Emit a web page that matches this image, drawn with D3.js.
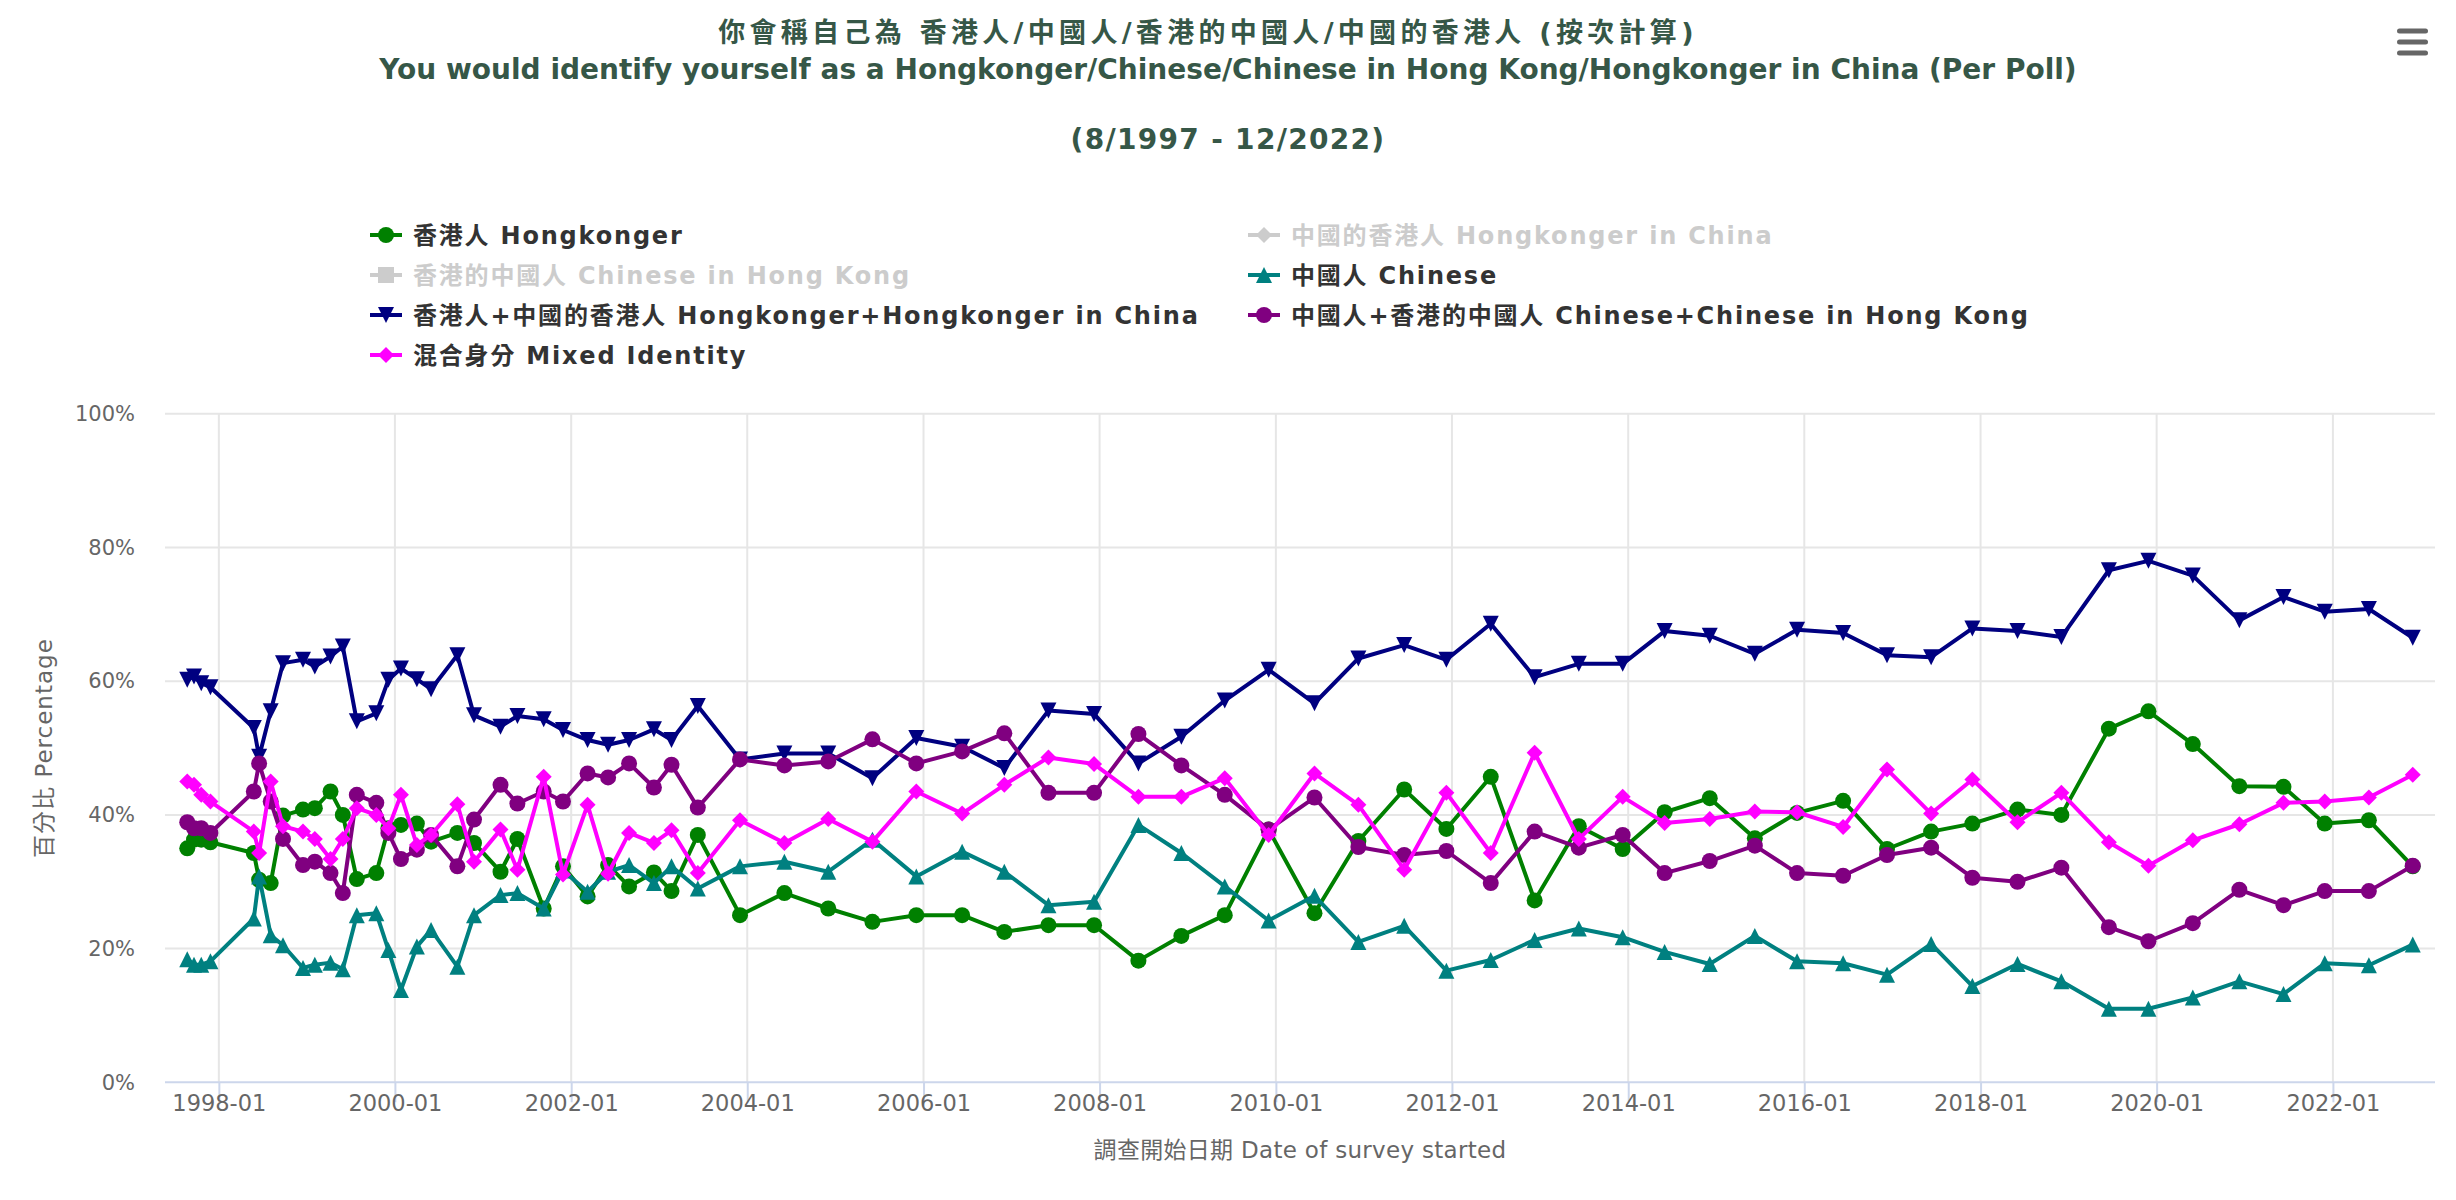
<!DOCTYPE html>
<html>
<head>
<meta charset="utf-8">
<script src="https://cdn.jsdelivr.net/npm/d3@7"></script>
<style>
  html, body { margin: 0; padding: 0; background: #fff; }
  svg { display: block; font-family: "DejaVu Sans", "Noto Sans CJK TC", sans-serif; }
</style>
</head>
<body>
<div id="chart"></div>
<script>
// survey start dates (one per poll)
var dates = [
  "1997-08-23","1997-09-20","1997-10-20","1997-11-27","1998-05-26","1998-06-17","1998-08-04","1998-09-24",
  "1998-12-16","1999-02-03","1999-04-09","1999-05-30","1999-07-27","1999-10-16","1999-12-05","2000-01-26",
  "2000-04-01","2000-05-30","2000-09-16","2000-11-24","2001-03-14","2001-05-23","2001-09-09","2001-11-28",
  "2002-03-10","2002-06-03","2002-08-29","2002-12-10","2003-02-21","2003-06-10","2003-12-02","2004-06-03",
  "2004-12-02","2005-06-03","2005-12-02","2006-06-10","2006-12-02","2007-06-03","2007-12-09","2008-06-10",
  "2008-12-05","2009-06-03","2009-12-02","2010-06-10","2010-12-09","2011-06-17","2011-12-09","2012-06-10",
  "2012-12-09","2013-06-10","2013-12-09","2014-06-01","2014-12-05","2015-06-10","2015-12-02","2016-06-10",
  "2016-12-09","2017-06-10","2017-11-28","2018-06-03","2018-12-02","2019-06-17","2019-11-28","2020-05-30",
  "2020-12-09","2021-06-10","2021-11-28","2022-05-30","2022-11-28"
];

var hongkonger = [
  35.0,36.3,36.3,35.9,34.3,30.3,29.8,39.9,40.8,41.0,43.5,40.0,30.4,31.3,38.0,38.5,
  38.7,36.0,37.3,35.8,31.5,36.4,26.0,32.3,27.8,32.5,29.3,31.4,28.6,37.0,25.0,28.3,
  26.0,24.0,25.0,25.0,22.5,23.5,23.5,18.2,21.9,25.0,37.8,25.3,36.1,43.8,37.9,45.7,
  27.2,38.3,34.9,40.4,42.5,36.5,40.3,42.1,34.9,37.5,38.7,40.8,40.0,52.9,55.5,50.6,
  44.3,44.2,38.7,39.2,32.3
];

var chinese = [
  18.4,17.6,17.6,18.1,24.5,30.8,22.0,20.5,17.1,17.6,17.9,16.9,25.0,25.3,19.8,13.8,
  20.3,22.8,17.3,25.0,28.0,28.3,26.0,31.7,28.5,31.5,32.5,29.8,32.3,29.0,32.3,33.0,
  31.5,36.3,30.8,34.5,31.5,26.5,27.0,38.5,34.3,29.3,24.2,27.9,21.0,23.4,16.7,18.3,
  21.3,23.0,21.7,19.5,17.7,21.9,18.1,17.8,16.1,20.7,14.4,17.7,15.1,11.0,11.0,12.7,
  15.1,13.2,17.8,17.5,20.6
];

var hkPlusHkInChina = [
  60.2,60.7,59.7,59.1,53.0,48.7,55.5,62.7,63.2,62.2,63.7,65.2,54.0,55.2,60.2,61.9,
  60.3,58.8,63.9,54.9,53.2,54.8,54.3,52.7,51.2,50.5,51.2,52.8,51.2,56.3,48.3,49.2,
  49.2,45.5,51.5,50.2,47.0,55.6,55.1,47.7,51.7,57.1,61.7,56.7,63.4,65.4,63.2,68.6,
  60.6,62.6,62.6,67.5,66.8,64.1,67.7,67.2,63.9,63.6,67.9,67.5,66.6,76.6,78.0,75.8,
  69.1,72.6,70.4,70.8,66.5
];

var cnPlusCnInHk = [
  38.9,38.0,38.0,37.3,43.5,47.7,42.0,36.4,32.5,33.0,31.3,28.3,43.0,41.8,37.3,33.4,
  34.8,37.0,32.3,39.3,44.5,41.7,43.5,42.0,46.2,45.6,47.7,44.1,47.5,41.1,48.3,47.4,
  48.0,51.3,47.7,49.5,52.2,43.3,43.3,52.1,47.4,43.0,37.8,42.6,35.2,34.0,34.6,29.8,
  37.5,35.1,37.0,31.3,33.1,35.4,31.3,30.9,34.0,35.1,30.6,30.0,32.1,23.2,21.1,23.8,
  28.8,26.5,28.6,28.6,32.4
];

var mixed = [
  45.0,44.5,43.0,42.0,37.5,34.3,45.0,38.3,37.5,36.4,33.4,36.4,41.0,40.0,38.0,43.0,
  35.5,37.0,41.6,33.0,37.8,31.8,45.7,31.1,41.5,31.2,37.3,35.8,37.7,31.3,39.2,35.8,
  39.4,36.0,43.5,40.2,44.5,48.6,47.6,42.7,42.7,45.5,37.0,46.2,41.5,31.8,43.3,34.3,
  49.3,36.4,42.7,38.8,39.4,40.5,40.4,38.2,46.8,40.2,45.3,38.9,43.3,35.9,32.4,36.2,
  38.6,41.8,42.0,42.6,46.0
];

var yTicks = [0, 20, 40, 60, 80, 100];

// legend / draw order as in the original chart; hidden series have no data drawn
var series = [
  {name: "香港人 Hongkonger", color: "#008000", symbol: "circle", values: hongkonger},
  {name: "中國的香港人 Hongkonger in China", color: "#cccccc", symbol: "diamond", values: null},
  {name: "香港的中國人 Chinese in Hong Kong", color: "#cccccc", symbol: "square", values: null},
  {name: "中國人 Chinese", color: "#008080", symbol: "triangle", values: chinese},
  {name: "香港人+中國的香港人 Hongkonger+Hongkonger in China", color: "#000080", symbol: "triangle-down", values: hkPlusHkInChina},
  {name: "中國人+香港的中國人 Chinese+Chinese in Hong Kong", color: "#800080", symbol: "circle", values: cnPlusCnInHk},
  {name: "混合身分 Mixed Identity", color: "#ff00ff", symbol: "diamond", values: mixed}
];

var width = 2456, height = 1200;
var plot = {left: 165, right: 2435, top: 413.8, bottom: 1082.3};

var svg = d3.select("#chart").append("svg")
    .attr("width", width)
    .attr("height", height);

var parse = d3.timeParse("%Y-%m-%d");
var times = dates.map(parse);

var t0 = d3.min(times), t1 = d3.max(times);
var pad = (t1 - t0) * 0.01;
var x = d3.scaleTime()
    .domain([new Date(+t0 - pad), new Date(+t1 + pad)])
    .range([plot.left, plot.right]);

var y = d3.scaleLinear()
    .domain([0, 100])
    .range([plot.bottom, plot.top]);

function markerPath(symbol, r) {
    if (symbol == "triangle") return "M0," + (-r) + "L" + r + "," + r + "L" + (-r) + "," + r + "Z";
    if (symbol == "triangle-down") return "M" + (-r) + "," + (-r) + "L" + r + "," + (-r) + "L0," + r + "Z";
    if (symbol == "diamond") return "M0," + (-r) + "L" + r + ",0L0," + r + "L" + (-r) + ",0Z";
    if (symbol == "square") return "M" + (-r) + "," + (-r) + "h" + (2 * r) + "v" + (2 * r) + "h" + (-2 * r) + "Z";
    return "M" + (-r) + ",0a" + r + "," + r + " 0 1,0 " + (2 * r) + ",0a" + r + "," + r + " 0 1,0 " + (-2 * r) + ",0Z";
}

// titles
var titleColor = "#365747";
svg.append("text")
    .attr("x", width / 2 - 20).attr("y", 33).attr("dy", "0.35em")
    .attr("text-anchor", "middle")
    .style("font-size", "27px").style("font-weight", "bold").style("fill", titleColor)
    .style("letter-spacing", "4.3px")
    .text("你會稱自己為 香港人/中國人/香港的中國人/中國的香港人 (按次計算)");
svg.append("text")
    .attr("x", width / 2).attr("y", 69).attr("dy", "0.35em")
    .attr("text-anchor", "middle")
    .style("font-size", "28px").style("font-weight", "bold").style("fill", titleColor)
    .text("You would identify yourself as a Hongkonger/Chinese/Chinese in Hong Kong/Hongkonger in China (Per Poll)");
svg.append("text")
    .attr("x", width / 2).attr("y", 139).attr("dy", "0.35em")
    .attr("text-anchor", "middle")
    .style("font-size", "28px").style("font-weight", "bold").style("fill", titleColor)
    .style("letter-spacing", "1.3px")
    .text("(8/1997 - 12/2022)");

// menu button
svg.append("g").selectAll("rect")
    .data([31, 42, 53])
    .enter().append("rect")
    .attr("x", 2397).attr("y", function(d) { return d - 2.5; })
    .attr("width", 31).attr("height", 5).attr("rx", 2.5)
    .attr("fill", "#666666");

// legend
var legend = svg.append("g");
var legendItem = legend.selectAll("g")
    .data(series)
    .enter().append("g")
    .attr("transform", function(d, i) {
        var col = i % 2, row = Math.floor(i / 2);
        return "translate(" + (col == 0 ? 386 : 1264) + "," + (235 + row * 40) + ")";
    });
legendItem.append("line")
    .attr("x1", -16).attr("x2", 16)
    .attr("stroke", function(d) { return d.color; })
    .attr("stroke-width", 4);
legendItem.append("path")
    .attr("d", function(d) { return markerPath(d.symbol, 8); })
    .attr("fill", function(d) { return d.color; });
legendItem.append("text")
    .attr("x", 27).attr("dy", "0.36em")
    .style("font-size", "24px").style("font-weight", "bold")
    .style("letter-spacing", "1.8px")
    .style("fill", function(d) { return d.values ? "#333333" : "#cccccc"; })
    .text(function(d) { return d.name; });

// grid
var xTicks = d3.timeYear.every(2).range(new Date(1998, 0, 1), new Date(2023, 0, 2));
svg.append("g").selectAll("line")
    .data(yTicks.slice(1))
    .enter().append("line")
    .attr("x1", plot.left).attr("x2", plot.right)
    .attr("y1", function(d) { return y(d); }).attr("y2", function(d) { return y(d); })
    .attr("stroke", "#e6e6e6").attr("stroke-width", 2);
svg.append("g").selectAll("line")
    .data(xTicks)
    .enter().append("line")
    .attr("x1", function(d) { return x(d); }).attr("x2", function(d) { return x(d); })
    .attr("y1", plot.top).attr("y2", plot.bottom)
    .attr("stroke", "#e6e6e6").attr("stroke-width", 2);

// x axis
var xAxis = svg.append("g")
    .attr("transform", "translate(0," + plot.bottom + ")")
    .call(d3.axisBottom(x).tickValues(xTicks).tickFormat(d3.timeFormat("%Y-%m")).tickSize(20).tickPadding(6));
xAxis.select(".domain").attr("stroke", "#ccd6eb").attr("stroke-width", 2)
    .attr("d", "M" + plot.left + ",0H" + plot.right);
xAxis.selectAll(".tick line").attr("stroke", "#ccd6eb").attr("stroke-width", 2);
xAxis.selectAll(".tick text")
    .attr("y", 29).attr("dy", "0")
    .style("font-size", "22.5px").style("fill", "#666666")
    .style("font-family", "DejaVu Sans");

// y axis
var yAxis = svg.append("g")
    .attr("transform", "translate(135,0)")
    .call(d3.axisLeft(y).tickValues(yTicks).tickFormat(function(d) { return d + "%"; }).tickSize(0).tickPadding(0));
yAxis.select(".domain").remove();
yAxis.selectAll(".tick text")
    .style("font-size", "21px").style("fill", "#666666")
    .style("font-family", "DejaVu Sans");

svg.append("text")
    .attr("transform", "translate(44," + ((plot.top + plot.bottom) / 2) + ") rotate(-90)")
    .attr("text-anchor", "middle").attr("dy", "0.35em")
    .style("font-size", "23px").style("fill", "#666666")
    .style("letter-spacing", "1px")
    .text("百分比 Percentage");
svg.append("text")
    .attr("x", (plot.left + plot.right) / 2).attr("y", 1150).attr("dy", "0.35em")
    .attr("text-anchor", "middle")
    .style("font-size", "23px").style("fill", "#666666")
    .style("letter-spacing", "0.3px")
    .text("調查開始日期 Date of survey started");

// series lines + markers
var line = d3.line()
    .x(function(d) { return x(d.t); })
    .y(function(d) { return y(d.v); });

series.filter(function(s) { return s.values; }).forEach(function(s) {
    var pts = s.values.map(function(v, i) { return {t: times[i], v: v}; });
    var g = svg.append("g");
    g.append("path")
        .datum(pts)
        .attr("d", line)
        .attr("fill", "none")
        .attr("stroke", s.color)
        .attr("stroke-width", 4)
        .attr("stroke-linejoin", "round")
        .attr("stroke-linecap", "round");
    g.selectAll(".pt")
        .data(pts)
        .enter().append("path")
        .attr("class", "pt")
        .attr("transform", function(d) { return "translate(" + x(d.t) + "," + y(d.v) + ")"; })
        .attr("d", markerPath(s.symbol, 8))
        .attr("fill", s.color);
});
</script>
</body>
</html>
